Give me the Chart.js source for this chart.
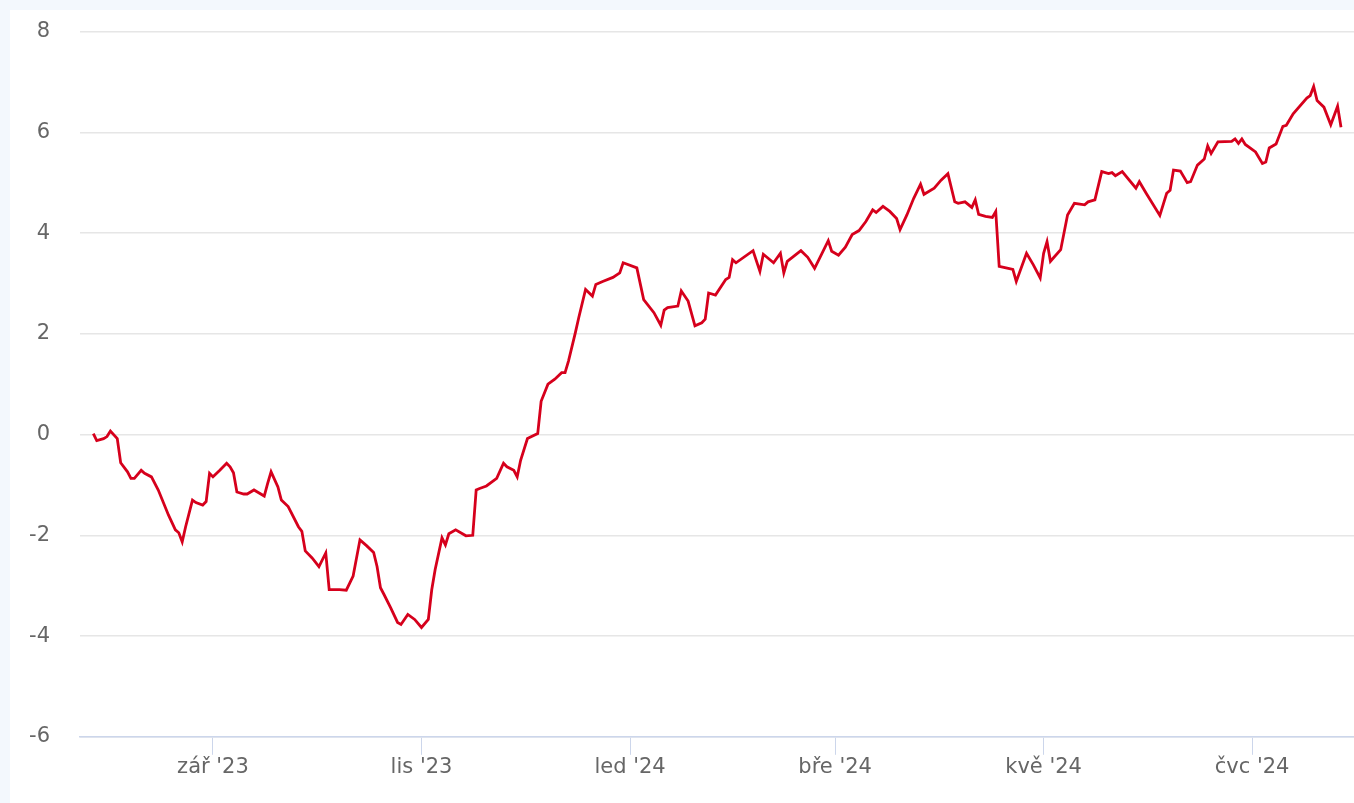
<!DOCTYPE html>
<html>
<head>
<meta charset="utf-8">
<script src="https://cdn.jsdelivr.net/npm/chart.js"></script>
<style>
  html, body { margin: 0; padding: 0; background: #f3f8fd; overflow: hidden; }
  #panel { position: absolute; left: 10px; top: 10px; width: 1344px; height: 793px; background: #fff; }
  #wrap { position: absolute; left: 10px; top: -11px; width: 1344px; height: 814px; }
</style>
</head>
<body>
<div id="panel"></div>
<div id="wrap"><canvas id="chart"></canvas></div>
<script>
// days counted from 1 Sep 2023
const dayOffsets = [
  -35, -34, -32, -31, -30, -28, -27, -25, -24, -23, -21, -20, -18, -16, -13, -11, -10, -9, -8, -6,
  -5, -3, -2, -1, 0, 2, 4, 5, 6, 7, 9, 10, 12, 13, 15, 16, 17, 19, 20, 22,
  25, 26, 27, 29, 31, 33, 34, 37, 39, 41, 43, 45, 47, 48, 49, 50, 52, 54, 55, 57,
  59, 61, 63, 64, 65, 67, 68, 69, 71, 74, 76, 77, 78, 80, 83, 85, 86, 88, 89, 90,
  92, 95, 96, 98, 100, 102, 103, 104, 106, 107, 109, 111, 112, 114, 117, 119, 120, 124, 126, 129,
  131, 132, 133, 136, 137, 139, 141, 143, 144, 145, 147, 150, 151, 152, 153, 158, 160, 161, 164, 166,
  167, 168, 172, 174, 176, 180, 181, 183, 185, 187, 189, 191, 193, 194, 196, 198, 200, 201, 203, 205,
  207, 208, 211, 213, 215, 217, 218, 220, 222, 223, 224, 226, 228, 229, 230, 232, 234, 235, 238, 240,
  242, 243, 244, 245, 248, 250, 252, 255, 256, 258, 260, 262, 263, 264, 266, 270, 271, 273, 277, 279,
  280, 281, 283, 285, 286, 288, 290, 291, 292, 294, 298, 299, 300, 301, 302, 305, 307, 308, 309, 311,
  313, 314, 316, 320, 321, 322, 323, 325, 327, 329, 330
];

const values = [
  0.02, -0.12, -0.08, -0.04, 0.07, -0.08, -0.56, -0.74, -0.87, -0.87, -0.71, -0.77, -0.84, -1.10, -1.60, -1.89, -1.95, -2.13, -1.83, -1.30,
  -1.35, -1.40, -1.33, -0.77, -0.84, -0.71, -0.57, -0.64, -0.76, -1.14, -1.18, -1.18, -1.10, -1.14, -1.22, -0.97, -0.74, -1.04, -1.30, -1.43,
  -1.83, -1.92, -2.31, -2.45, -2.62, -2.35, -3.08, -3.08, -3.09, -2.81, -2.09, -2.21, -2.34, -2.62, -3.04, -3.17, -3.44, -3.73, -3.77, -3.57,
  -3.67, -3.83, -3.67, -3.08, -2.68, -2.05, -2.19, -1.97, -1.89, -2.01, -2.00, -1.10, -1.07, -1.02, -0.87, -0.57, -0.64, -0.71, -0.84, -0.51,
  -0.08, 0.02, 0.66, 1.00, 1.10, 1.23, 1.23, 1.46, 2.02, 2.32, 2.88, 2.75, 2.98, 3.04, 3.12, 3.21, 3.41, 3.31, 2.68, 2.42,
  2.17, 2.47, 2.52, 2.55, 2.85, 2.65, 2.16, 2.22, 2.29, 2.81, 2.77, 3.08, 3.12, 3.47, 3.41, 3.65, 3.24, 3.58, 3.41, 3.60,
  3.21, 3.44, 3.65, 3.52, 3.30, 3.85, 3.64, 3.56, 3.72, 3.97, 4.05, 4.23, 4.46, 4.41, 4.53, 4.43, 4.29, 4.07, 4.36, 4.69,
  4.97, 4.77, 4.89, 5.05, 5.18, 4.62, 4.59, 4.62, 4.51, 4.66, 4.37, 4.33, 4.31, 4.43, 3.34, 3.31, 3.28, 3.04, 3.60, 3.37,
  3.11, 3.60, 3.83, 3.44, 3.67, 4.36, 4.59, 4.56, 4.62, 4.66, 5.22, 5.18, 5.20, 5.14, 5.22, 4.89, 5.02, 4.79, 4.35, 4.79,
  4.85, 5.25, 5.23, 5.00, 5.02, 5.35, 5.47, 5.73, 5.58, 5.81, 5.82, 5.87, 5.78, 5.87, 5.76, 5.61, 5.38, 5.41, 5.69, 5.77,
  6.12, 6.14, 6.37, 6.68, 6.73, 6.91, 6.63, 6.50, 6.15, 6.52, 6.10
];

// month ticks (1 Sep, 1 Nov, 1 Jan, 1 Mar, 1 May, 1 Jul)
const tickDays = [0, 61, 122, 182, 243, 304];
const tickLabels = ["zář '23", "lis '23", "led '24", "bře '24", "kvě '24", "čvc '24"];

const yTicks = [-6, -4, -2, 0, 2, 4, 6, 8];

const points = dayOffsets.map((d, i) => ({ x: d, y: values[i] }));

Chart.defaults.font.family = "'DejaVu Sans', sans-serif";
Chart.defaults.color = "#666666";

const ctx = document.getElementById("chart").getContext("2d");
const chart = new Chart(ctx, {
  type: "line",
  data: {
    datasets: [{
      data: points,
      borderColor: "#d6001c",
      borderWidth: 2.8,
      pointRadius: 0,
      tension: 0,
      fill: false,
    }],
  },
  options: {
    responsive: true,
    maintainAspectRatio: false,
    animation: false,
    layout: { padding: { top: 19, right: 0, bottom: 23, left: 0 } },
    plugins: {
      legend: { display: false },
      tooltip: { enabled: false },
    },
    scales: {
      x: {
        type: "linear",
        min: -38.9,
        max: 333.8,
        afterBuildTicks: (scale) => {
          scale.ticks = tickDays.map((v) => ({ value: v }));
        },
        ticks: {
          autoSkip: false,
          maxRotation: 0,
          padding: 0,
          font: { size: 21 },
          callback: (value) => tickLabels[tickDays.indexOf(value)],
        },
        grid: {
          drawOnChartArea: false,
          tickLength: 18,
          color: "#ccd6eb",
        },
        border: { color: "#ccd6eb", width: 1.5 },
      },
      y: {
        min: yTicks[0],
        max: yTicks[yTicks.length - 1],
        afterBuildTicks: (scale) => {
          scale.ticks = yTicks.map((v) => ({ value: v }));
        },
        afterFit: (scale) => {
          scale.width = 70;
        },
        ticks: {
          padding: 30,
          font: { size: 21 },
        },
        grid: {
          drawTicks: false,
          color: "#e6e6e6",
          lineWidth: 1.5,
        },
        border: { display: false },
      },
    },
  },
});
</script>
</body>
</html>
